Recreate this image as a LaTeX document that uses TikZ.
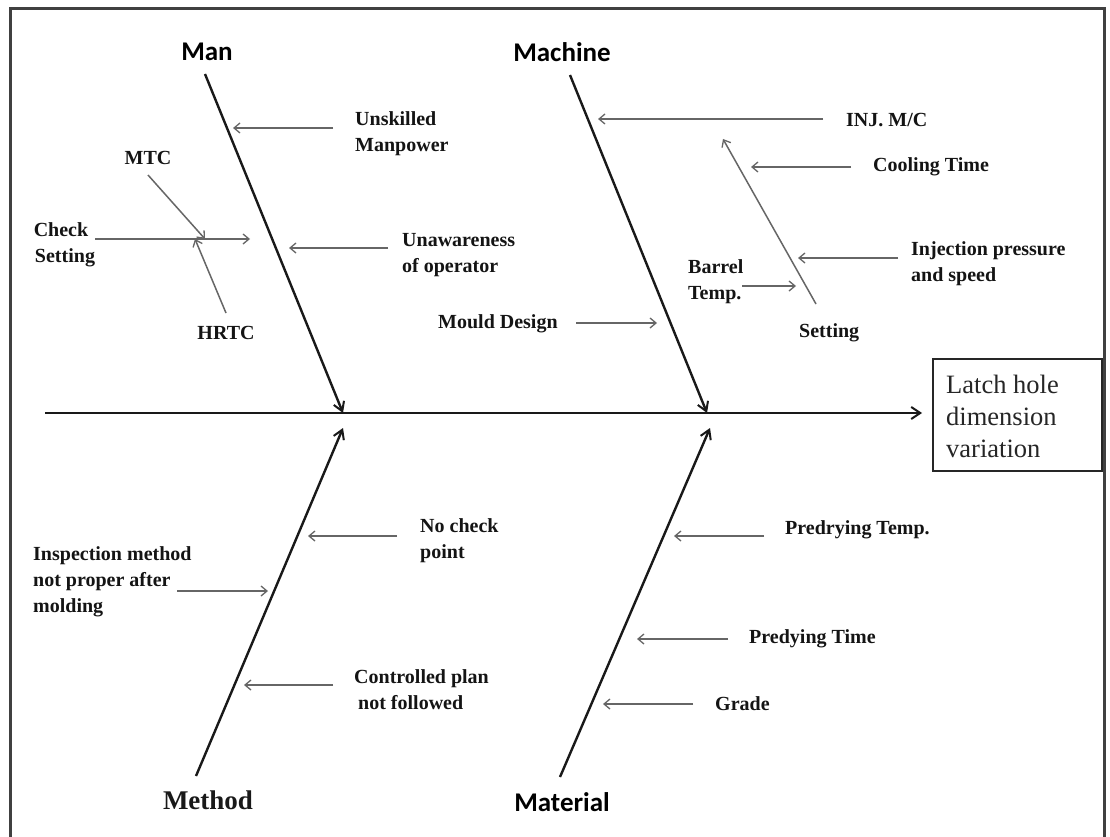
\documentclass[tikz,border=0pt]{standalone}
\usepackage{fontspec}
\setmainfont{Liberation Serif}
\newfontfamily\carl{Carlito}
\usetikzlibrary{arrows.meta}
\tikzset{
  cause/.style={font=\bfseries\fontsize{20}{26}\selectfont, text=black!92, inner sep=0pt, align=left, anchor=west},
  catsans/.style={font=\carl\bfseries\fontsize{27}{30}\selectfont, text=black, inner sep=0pt},
  catserif/.style={font=\bfseries\fontsize{27}{30}\selectfont, text=black!90, inner sep=0pt},
  bone/.style={line width=2.4pt, black!90, -{Straight Barb[length=9pt,width=11pt,line width=2pt]}},
  twig/.style={line width=1.5pt, black!60, -{Straight Barb[length=6pt,width=10pt,line width=1.3pt]}},
  effect/.style={draw=black!85, line width=1.8pt, minimum width=169pt, minimum height=112pt, inner sep=0pt}
}
\begin{document}
\begin{tikzpicture}[x=1pt,y=-1pt]
\useasboundingbox (0,0) rectangle (1110,837);
\fill[white] (0,0) rectangle (1110,837);
% frame
\draw[line width=3pt, black!75] (10,850) -- (10,8.5) -- (1104,8.5) -- (1104,850);

% effect box
\node[effect] (eff) at (1017.5,415) {};
\node[anchor=west, inner sep=0pt, align=left, font=\fontsize{26.5}{32}\selectfont, text=black!85] (efftxt) at (946,416) {Latch hole\\dimension\\variation};

% spine
\coordinate (sp0) at (45,413);
\coordinate (sp1) at (922,413);
\draw[line width=2.4pt, black!90, -{Straight Barb[length=9pt,width=12pt,line width=2pt]}] (sp0) -- (sp1);

% category labels
\node[catsans] (man) at (207,52) {Man};
\node[catsans] (mach) at (562,52) {Machine};
\node[catserif] (meth) at (208,800) {Method};
\node[catsans] (mat) at (562,802) {Material};

% bones
\coordinate (manA) at (205,74);   \coordinate (manB) at (343,413);
\coordinate (macA) at (570,75);   \coordinate (macB) at (707,413);
\coordinate (metA) at (196,776);  \coordinate (metB) at (343,428);
\coordinate (matA) at (560,777);  \coordinate (matB) at (710,428);
\draw[bone] (manA) -- (manB);
\draw[bone] (macA) -- (macB);
\draw[bone] (metA) -- (metB);
\draw[bone] (matA) -- (matB);

% Man causes
\node[cause] (unsk) at (355,134) {Unskilled\\Manpower};
\coordinate (unskA) at (333,128); \coordinate (unskB) at (233,128);
\draw[twig] (unskA) -- (unskB);

\node[cause, anchor=center, align=center] (check) at (61,245) {Check\\\hspace*{8pt}Setting};
\coordinate (chkA) at (95,239); \coordinate (chkB) at (250,239);
\draw[twig] (chkA) -- (chkB);

\node[cause, anchor=center] (mtc) at (148,158) {MTC};
\coordinate (mtcA) at (148,175); \coordinate (mtcB) at (205,239);
\draw[twig] (mtcA) -- (mtcB);

\node[cause, anchor=center] (hrtc) at (226,333) {HRTC};
\coordinate (hrtcA) at (226,313); \coordinate (hrtcB) at (195,239);
\draw[twig] (hrtcA) -- (hrtcB);

\node[cause] (unaw) at (402,255) {Unawareness\\of operator};
\coordinate (unawA) at (388,248); \coordinate (unawB) at (289,248);
\draw[twig] (unawA) -- (unawB);

% Machine causes
\node[cause] (inj) at (846,120) {INJ. M/C};
\coordinate (injA) at (823,119); \coordinate (injB) at (598,119);
\draw[twig] (injA) -- (injB);

\coordinate (setA) at (816,304); \coordinate (setB) at (723,139);
\draw[twig] (setA) -- (setB);
\node[cause] (settxt) at (799,333) {Setting};

\node[cause] (cool) at (873,167) {Cooling Time};
\coordinate (coolA) at (851,167); \coordinate (coolB) at (751,167);
\draw[twig] (coolA) -- (coolB);

\node[cause] (injp) at (911,264) {Injection pressure\\and speed};
\coordinate (injpA) at (898,258); \coordinate (injpB) at (798,258);
\draw[twig] (injpA) -- (injpB);

\node[cause] (barrel) at (688,282) {Barrel\\Temp.};
\coordinate (barA) at (742,286); \coordinate (barB) at (796,286);
\draw[twig] (barA) -- (barB);

\node[cause] (mould) at (438,324) {Mould Design};
\coordinate (mouA) at (576,323); \coordinate (mouB) at (657,323);
\draw[twig] (mouA) -- (mouB);

% Method causes
\node[cause] (nock) at (420,541) {No check\\point};
\coordinate (nockA) at (397,536); \coordinate (nockB) at (308,536);
\draw[twig] (nockA) -- (nockB);

\node[cause] (insp) at (33,582) {Inspection method\\not proper after\\molding};
\coordinate (inspA) at (177,591); \coordinate (inspB) at (268,591);
\draw[twig] (inspA) -- (inspB);

\node[cause] (ctrl) at (354,690) {Controlled plan\\\hspace*{4pt}not followed};
\coordinate (ctrlA) at (333,685); \coordinate (ctrlB) at (244,685);
\draw[twig] (ctrlA) -- (ctrlB);

% Material causes
\node[cause] (pdt) at (785,530) {Predrying Temp.};
\coordinate (pdtA) at (764,536); \coordinate (pdtB) at (674,536);
\draw[twig] (pdtA) -- (pdtB);

\node[cause] (pdti) at (749,639) {Predying Time};
\coordinate (pdtiA) at (728,639); \coordinate (pdtiB) at (637,639);
\draw[twig] (pdtiA) -- (pdtiB);

\node[cause] (grade) at (715,704) {Grade};
\coordinate (grA) at (693,704); \coordinate (grB) at (603,704);
\draw[twig] (grA) -- (grB);
\end{tikzpicture}
\end{document}
